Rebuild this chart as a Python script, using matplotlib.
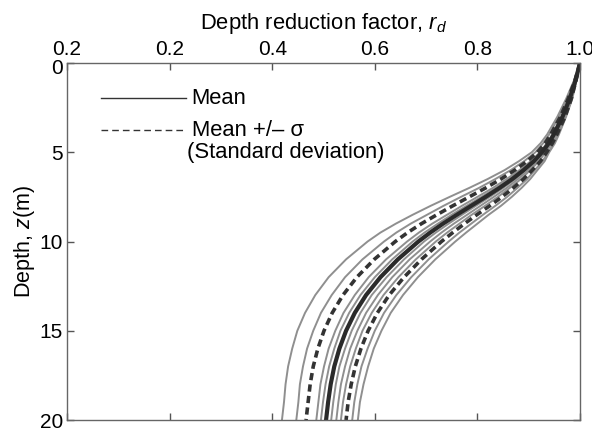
import matplotlib
matplotlib.use("Agg")
import matplotlib.pyplot as plt
import matplotlib.transforms as mtransforms

plt.rcParams['font.family'] = ['Liberation Sans', 'DejaVu Sans']
plt.rcParams['mathtext.fontset'] = 'custom'
plt.rcParams['mathtext.rm'] = 'Liberation Sans'
plt.rcParams['mathtext.it'] = 'Liberation Sans:italic'

# depth points (m)
depth = [0, 1, 2, 3, 4, 4.5, 5, 5.5, 6, 6.5, 7, 7.5, 8, 8.5, 9, 9.5, 10,
         11, 12, 13, 14, 15, 16, 17, 18, 19, 20]

# mean and mean +/- sigma profiles of r_d
rd_mean = [1.000, 0.991, 0.980, 0.966, 0.949, 0.939, 0.926, 0.910, 0.890,
           0.868, 0.843, 0.816, 0.788, 0.760, 0.733, 0.708, 0.685,
           0.645, 0.611, 0.583, 0.561, 0.544, 0.531, 0.521, 0.514, 0.509, 0.505]
rd_minus = [1.000, 0.990, 0.977, 0.962, 0.943, 0.932, 0.917, 0.897, 0.873,
            0.846, 0.816, 0.784, 0.752, 0.721, 0.691, 0.664, 0.640,
            0.599, 0.565, 0.538, 0.517, 0.501, 0.489, 0.480, 0.474, 0.470, 0.466]
rd_plus = [1.000, 0.992, 0.983, 0.971, 0.955, 0.946, 0.935, 0.923, 0.907,
           0.890, 0.870, 0.848, 0.824, 0.799, 0.775, 0.752, 0.730,
           0.691, 0.657, 0.628, 0.605, 0.587, 0.573, 0.562, 0.554, 0.548, 0.544]

# individual profiles (gray)
rd_runs = [
    [1.000, 0.988, 0.973, 0.956, 0.936, 0.923, 0.906, 0.881, 0.853,
     0.820, 0.784, 0.746, 0.709, 0.674, 0.641, 0.611, 0.586,
     0.544, 0.510, 0.484, 0.464, 0.449, 0.439, 0.431, 0.426, 0.423, 0.419],
    [1.000, 0.989, 0.976, 0.959, 0.940, 0.928, 0.913, 0.891, 0.865,
     0.835, 0.803, 0.768, 0.734, 0.702, 0.670, 0.642, 0.618,
     0.576, 0.542, 0.516, 0.495, 0.480, 0.468, 0.460, 0.454, 0.451, 0.447],
    [1.000, 0.990, 0.979, 0.964, 0.946, 0.935, 0.922, 0.904, 0.882,
     0.857, 0.830, 0.800, 0.770, 0.741, 0.712, 0.686, 0.663,
     0.622, 0.588, 0.561, 0.539, 0.523, 0.510, 0.501, 0.494, 0.490, 0.486],
    [1.000, 0.991, 0.979, 0.965, 0.948, 0.937, 0.924, 0.907, 0.886,
     0.862, 0.836, 0.808, 0.779, 0.750, 0.723, 0.697, 0.674,
     0.634, 0.600, 0.572, 0.550, 0.533, 0.521, 0.511, 0.504, 0.499, 0.495],
    [1.000, 0.991, 0.981, 0.967, 0.951, 0.941, 0.928, 0.913, 0.894,
     0.874, 0.850, 0.824, 0.797, 0.770, 0.744, 0.719, 0.696,
     0.657, 0.623, 0.594, 0.572, 0.555, 0.542, 0.531, 0.524, 0.519, 0.515],
    [1.000, 0.992, 0.982, 0.968, 0.952, 0.943, 0.931, 0.917, 0.899,
     0.879, 0.857, 0.832, 0.806, 0.780, 0.754, 0.730, 0.708,
     0.668, 0.634, 0.606, 0.583, 0.566, 0.552, 0.542, 0.534, 0.529, 0.525],
    [1.000, 0.992, 0.982, 0.969, 0.954, 0.945, 0.933, 0.920, 0.903,
     0.885, 0.863, 0.840, 0.815, 0.789, 0.765, 0.741, 0.719,
     0.680, 0.646, 0.617, 0.594, 0.576, 0.563, 0.552, 0.544, 0.538, 0.534],
    [1.000, 0.993, 0.984, 0.972, 0.957, 0.949, 0.938, 0.927, 0.912,
     0.897, 0.878, 0.858, 0.835, 0.811, 0.788, 0.765, 0.744,
     0.705, 0.671, 0.642, 0.618, 0.600, 0.586, 0.574, 0.566, 0.560, 0.556],
    [1.000, 0.993, 0.985, 0.973, 0.959, 0.951, 0.940, 0.931, 0.917,
     0.903, 0.886, 0.867, 0.846, 0.822, 0.800, 0.778, 0.757,
     0.718, 0.684, 0.655, 0.631, 0.613, 0.598, 0.587, 0.578, 0.571, 0.567],
]

x_ticks = [0.0, 0.2, 0.4, 0.6, 0.8, 1.0]
x_tick_labels = ['0.2', '0.2', '0.4', '0.6', '0.8', '1.0']
y_ticks = [0, 5, 10, 15, 20]

fig = plt.figure(figsize=(5.92, 4.29), dpi=100)
ax = fig.add_axes([67 / 592, 9 / 429, 513 / 592, 357 / 429])

for run in rd_runs:
    ax.plot(run, depth, color='#8f8f8f', lw=1.4)

for prof in (rd_minus, rd_plus):
    line, = ax.plot(prof, depth, color='#333333', lw=2.6)
    line.set_dashes((2.0, 1.2))

ax.plot(rd_mean, depth, color='#2a2a2a', lw=3.0)

ax.set_xlim(0, 1)
ax.set_ylim(20, 0)
ax.set_xticks(x_ticks)
ax.set_xticklabels(x_tick_labels)
ax.set_yticks(y_ticks)

ax.xaxis.set_label_position('top')
ax.set_xlabel('Depth reduction factor, $r_d$', fontsize=15.8, labelpad=8)
ax.set_ylabel('Depth, $z$(m)', fontsize=15.5, labelpad=2)

ax.tick_params(direction='in', top=True, bottom=True, left=True, right=True,
               labeltop=True, labelbottom=False, labelsize=15, length=5,
               width=1, color='#555555')
ax.tick_params(axis='x', pad=3)
ax.tick_params(axis='y', pad=3)
for s in ax.spines.values():
    s.set_color('#666666')
    s.set_linewidth(1.0)

# the "0" depth label sits a little lower, clear of the top labels
zero_lbl = ax.get_yticklabels()[0]
shift = mtransforms.ScaledTranslation(0, -4 / 100, fig.dpi_scale_trans)
zero_lbl.set_transform(zero_lbl.get_transform() + shift)

# hand-drawn legend
ax.plot([0.066, 0.232], [0.901, 0.901], transform=ax.transAxes,
        color='#333333', lw=1.0)
ax.text(0.243, 0.901, 'Mean', transform=ax.transAxes, fontsize=15.8,
        va='center', ha='left')
leg_dash, = ax.plot([0.066, 0.232], [0.812, 0.812], transform=ax.transAxes,
                    color='#333333', lw=1.0)
leg_dash.set_dashes((4.8, 2.9))
ax.text(0.243, 0.812, 'Mean +/\u2013 \u03c3', transform=ax.transAxes,
        fontsize=15.8, va='center', ha='left')
ax.text(0.233, 0.750, '(Standard deviation)', transform=ax.transAxes,
        fontsize=15.8, va='center', ha='left')

fig.savefig('out.png', dpi=100)
